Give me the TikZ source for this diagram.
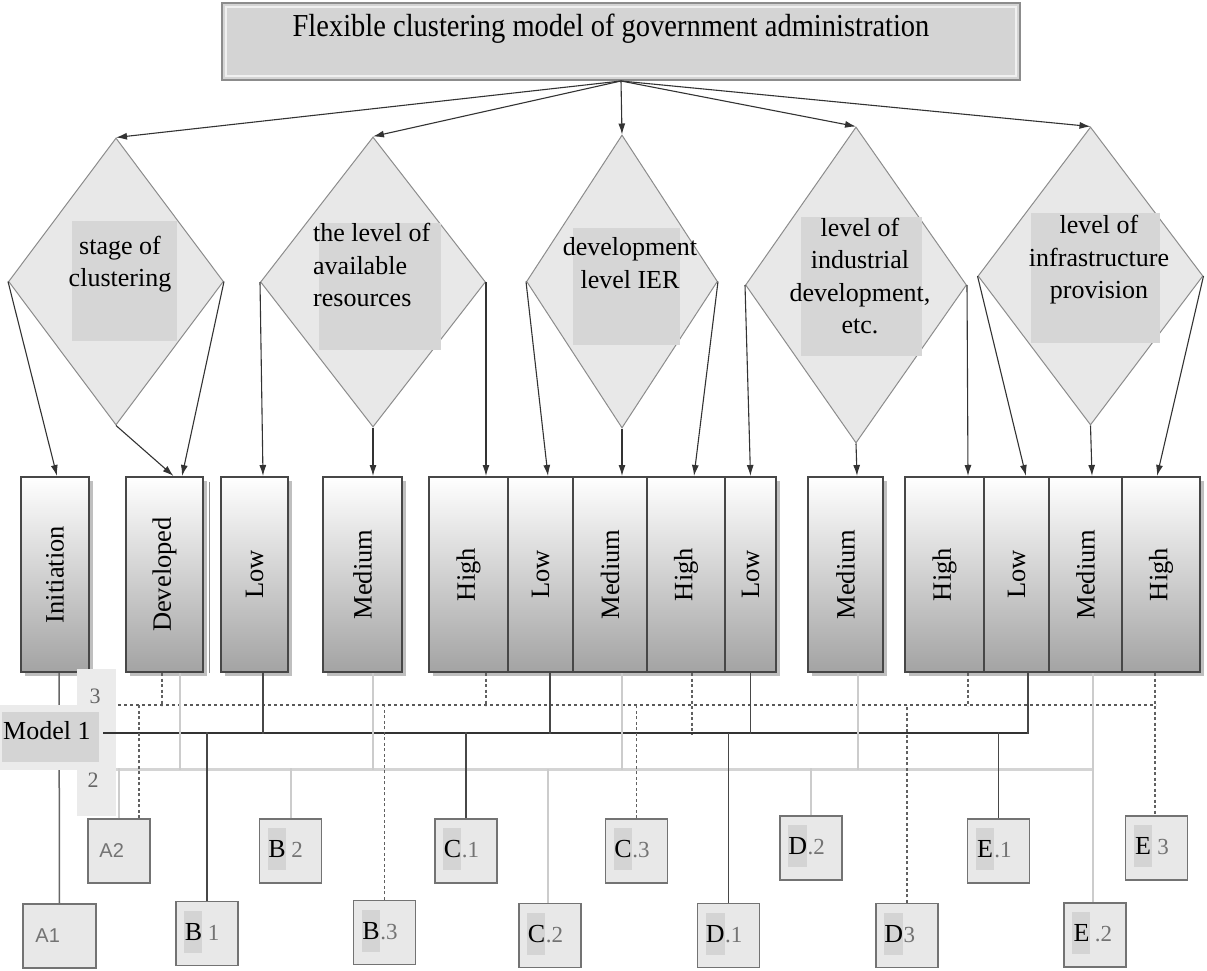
\documentclass[tikz,border=0pt]{standalone}
\usepackage{fontspec}
\setmainfont{Liberation Serif}
\newfontfamily\lblsans{Liberation Sans}
\newfontfamily\titlefont[FakeStretch=0.89]{Liberation Serif}
\usetikzlibrary{shapes.geometric,arrows.meta,shadows}
\begin{document}
\begin{tikzpicture}[x=1pt,y=-1pt,
  every node/.style={inner sep=0pt},
  big/.style={font=\fontsize{26}{32.5}\selectfont},
  arr/.style={draw=black!80,line width=1.1pt,-{Latex[length=11pt,width=7pt]}},
  dia/.style={diamond,draw=black!45,fill=black!9,line width=1pt,inner sep=0pt,aspect=1},
  inrect/.style={fill=black!16,inner sep=0pt},
  vbox/.style={draw=black!72,line width=2pt,top color=white,bottom color=black!36,inner sep=0pt,minimum height=195pt,
    drop shadow={shadow xshift=4pt,shadow yshift=-4pt,fill=black!25,opacity=1}},
  vtext/.style={rotate=90,font=\fontsize{26.5}{30}\selectfont},
  leaf/.style={draw=black!55,line width=1.5pt,fill=black!9,minimum width=62pt,minimum height=64pt},
  hl/.style={fill=black!17,minimum width=18pt,minimum height=42pt,font=\fontsize{26}{28}\selectfont},
  dig/.style={text=black!55,font=\fontsize{23}{26}\selectfont},
  busm/.style={draw=black!80,line width=1.6pt},
  busd/.style={draw=black!65,line width=1.4pt,dash pattern=on 3pt off 3pt},
  busl/.style={draw=black!17,line width=3pt},
  vs/.style={draw=black!72,line width=1.5pt},
  vd/.style={draw=black!62,line width=1.3pt,dash pattern=on 3pt off 2.5pt},
  vl/.style={draw=black!20,line width=2pt},
  vm/.style={draw=black!60,line width=1.5pt},
]
\useasboundingbox (0,0) rectangle (1207,971);

% title
\node[draw=black!45,line width=2pt,fill=black!17,minimum width=798pt,minimum height=77pt] (title) at (621,41.5) {};
\draw[black!6,line width=2pt] ([shift={(5,5)}]title.north west) rectangle ([shift={(-5,-5)}]title.south east);
\node[font=\titlefont\fontsize{32}{36}\selectfont,anchor=base] (ttl) at (611,37) {Flexible clustering model of government administration};

% diamonds
\node[dia,minimum width=215pt,minimum height=287pt] (d1) at (116,281.5) {};
\node[dia,minimum width=225pt,minimum height=290pt] (d2) at (373,282) {};
\node[dia,minimum width=191pt,minimum height=293pt] (d3) at (622,281.5) {};
\node[dia,minimum width=221pt,minimum height=316pt] (d4) at (856,285) {};
\node[dia,minimum width=225pt,minimum height=298pt] (d5) at (1090.5,276) {};

\node[inrect,minimum width=105pt,minimum height=120pt] (r1) at (124.5,281) {};
\node[inrect,minimum width=122pt,minimum height=127pt] (r2) at (380,286.5) {};
\node[inrect,minimum width=107pt,minimum height=117pt] (r3) at (626.5,286.5) {};
\node[inrect,minimum width=121pt,minimum height=139pt] (r4) at (861.5,286.5) {};
\node[inrect,minimum width=129pt,minimum height=130pt] (r5) at (1095.5,278) {};

\node[big,align=center] (t1) at (120,264) {stage of\\clustering};
\node[big,align=left,anchor=west] (t2) at (313,265) {the level of\\available\\resources};
\node[big,align=center] (t3) at (630,263) {development\\level IER};
\node[big,align=center] (t4) at (860,276) {level of\\industrial\\development,\\etc.};
\node[big,align=center] (t5) at (1099,260) {level of\\infrastructure\\provision};

% title arrows
\foreach \d in {d1,d2,d3,d4,d5}
  \draw[arr] (title.south) -- (\d.north);

% A1 box (its line from Initiation runs behind the Model 1 panel)
\node[leaf,minimum width=73pt] (la1) at (59.5,936) {};
\node[font=\lblsans\fontsize{20}{22}\selectfont,text=black!55,anchor=west] (la1t) at ([xshift=13pt]la1.west) {A1};

% vertical option boxes
\node[vbox,minimum width=68pt] (init) at (55,574.5) {};
\node[vbox,minimum width=77pt] (dev) at (164.5,574.5) {};
\draw[black!45,line width=1pt] ([shift={(5,6)}]dev.north east) -- ([shift={(5,0)}]dev.south east);
\node[vbox,minimum width=67pt] (low1) at (254.5,574.5) {};
\node[vbox,minimum width=79pt] (med1) at (362.5,574.5) {};
\node[vbox,minimum width=79pt] (high1) at (468.5,574.5) {};
\node[vbox,minimum width=65pt] (low2) at (540.5,574.5) {};
\node[vbox,minimum width=74pt] (med2) at (610,574.5) {};
\node[vbox,minimum width=78pt] (high2) at (686,574.5) {};
\node[vbox,minimum width=51pt] (low3) at (750.5,574.5) {};
\node[vbox,minimum width=75pt] (med3) at (845.5,574.5) {};
\node[vbox,minimum width=79pt] (high3) at (944.5,574.5) {};
\node[vbox,minimum width=65pt] (low4) at (1016.5,574.5) {};
\node[vbox,minimum width=73pt] (med4) at (1085.5,574.5) {};
\node[vbox,minimum width=78pt] (high4) at (1161,574.5) {};

\foreach \b/\t in {init/Initiation,dev/Developed,low1/Low,med1/Medium,high1/High,low2/Low,med2/Medium,high2/High,low3/Low,med3/Medium,high3/High,low4/Low,med4/Medium,high4/High}
  \node[vtext] (\b-t) at (\b) {\t};

% arrows from diamonds
\draw[arr] (d1.west) -- ([xshift=2pt]init.north);
\draw[arr] (d1.east) -- ([xshift=17.5pt]dev.north);
\draw[arr] (d1.south) -- ([xshift=9pt]dev.north);
\draw[arr] (d2.west) -- ([xshift=8.5pt]low1.north);
\draw[arr] (d2.south) -- ([xshift=10.5pt]med1.north);
\draw[arr] (d2.east) -- ([xshift=17.5pt]high1.north);
\draw[arr] (d3.west) -- ([xshift=7.5pt]low2.north);
\draw[arr] (d3.south) -- ([xshift=12pt]med2.north);
\draw[arr] (d3.east) -- ([xshift=8pt]high2.north);
\draw[arr] (d4.west) -- (low3.north);
\draw[arr] (d4.south) -- ([xshift=11.5pt]med3.north);
\draw[arr] (d4.east) -- ([xshift=23.5pt]high3.north);
\draw[arr] (d5.west) -- ([xshift=9.5pt]low4.north);
\draw[arr] (d5.south) -- ([xshift=6.5pt]med4.north);
\draw[arr] (d5.east) -- ([xshift=-4pt]high4.north);

% Initiation -> A1
\draw[vm] ([xshift=4pt]init.south) -- (la1.north);

% Model 1 panel
\node[fill=black!8,minimum width=39pt,minimum height=147pt] (panel) at (96.5,742.5) {};
\node[fill=black!8,minimum width=103pt,minimum height=65pt] (mpanel) at (51.5,737.5) {};
\node[fill=black!17,minimum width=97pt,minimum height=50pt] (mbox) at (50.5,737) {};
\node[big,anchor=west] (mtext) at (3,731) {Model 1};
\node[font=\fontsize{22}{24}\selectfont,text=black!60] (n3) at (95,696) {3};
\node[font=\fontsize{22}{24}\selectfont,text=black!60] (n2) at (93,780) {2};

% buses
\coordinate (b3w) at (118,705); \coordinate (b3e) at (1156,705);
\coordinate (bmw) at (103,733); \coordinate (bme) at (1028,733);
\coordinate (b2w) at (116,769); \coordinate (b2e) at (1094,769);
\draw[busl] (b2w) -- (b2e);
\draw[busd] (b3w) -- (b3e);
\draw[busm] (bmw) -- (bme);

% bottom result boxes
\node[leaf] (la2) at (119,851) {};
\node[leaf] (lb1) at (207,933.5) {};
\node[leaf] (lb2) at (290.5,851) {};
\node[leaf] (lb3) at (384.5,932.5) {};
\node[leaf] (lc1) at (466,851) {};
\node[leaf] (lc2) at (550,935.5) {};
\node[leaf] (lc3) at (636.5,851) {};
\node[leaf] (ld1) at (728.5,935.5) {};
\node[leaf] (ld2) at (811,848) {};
\node[leaf] (ld3) at (907,935.5) {};
\node[leaf] (le1) at (998.5,851) {};
\node[leaf] (le2) at (1095,935) {};
\node[leaf] (le3) at (1156.5,848) {};

\node[font=\lblsans\fontsize{20}{22}\selectfont,text=black!55,anchor=west] (la2t) at ([xshift=12pt]la2.west) {A2};
\foreach \n/\a/\b in {lb1/B/\hspace{5pt}1,lb2/B/\hspace{5pt}2,lb3/B/.3,lc1/C/.1,lc2/C/.2,lc3/C/.3,ld1/D/.1,ld2/D/.2,ld3/D/3,le1/E/.1,le2/E/\hspace{4pt}.2,le3/E/\hspace{5pt}3}{
  \node[hl,anchor=north west] (\n-h) at ([shift={(9,10)}]\n.north west) {\a};
  \node[dig,anchor=base west] (\n-d) at (\n-h.base east) {\b};
}

% verticals from option boxes to buses
\draw[vd] ([xshift=-2.5pt]dev.south) -- ++(0,33);
\draw[vl] ([xshift=15.5pt]dev.south) -- ++(0,97);
\draw[vs] ([xshift=8.5pt]low1.south) -- ++(0,61);
\draw[vl] ([xshift=10.5pt]med1.south) -- ++(0,97);
\draw[vd] ([xshift=17.5pt]high1.south) -- ++(0,33);
\draw[vs] ([xshift=9.5pt]low2.south) -- ++(0,61);
\draw[vl] ([xshift=12pt]med2.south) -- ++(0,97);
\draw[vd] ([xshift=6pt]high2.south) -- ++(0,61);
\draw[vs] (low3.south) -- ++(0,61);
\draw[vl] ([xshift=12.5pt]med3.south) -- ++(0,97);
\draw[vd] ([xshift=23.5pt]high3.south) -- ++(0,33);
\draw[vs] ([xshift=11.5pt]low4.south) -- ++(0,61);
\draw[vl] ([xshift=7.5pt]med4.south) -- ([xshift=-2pt]le2.north);
\draw[vd] ([xshift=-6pt]high4.south) -- ([xshift=-1.5pt]le3.north);

% verticals from buses to result boxes
\draw[vd] ([xshift=20pt]la2.north) -- ++(0,-114);
\draw[vl] (la2.north) -- ++(0,-50);
\draw[vs] (lb1.north) -- ++(0,-169);
\draw[vl] (lb2.north) -- ++(0,-50);
\draw[vd] (lb3.north) -- ++(0,-196);
\draw[vs] (lc1.north) -- ++(0,-86);
\draw[vl] ([xshift=-2pt]lc2.north) -- ++(0,-134);
\draw[vd] (lc3.north) -- ++(0,-114);
\draw[vs] (ld1.north) -- ++(0,-170);
\draw[vl] (ld2.north) -- ++(0,-47);
\draw[vd] (ld3.north) -- ++(0,-198);
\draw[vs] (le1.north) -- ++(0,-86);
\end{tikzpicture}
\end{document}
